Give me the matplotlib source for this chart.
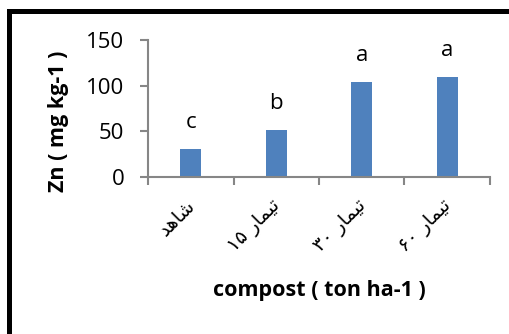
import matplotlib
matplotlib.use("Agg")
import matplotlib.pyplot as plt
import matplotlib.patches as mpatches
from matplotlib.transforms import ScaledTranslation
import numpy as np

# ---------------------------
# Daten
# ---------------------------
categories = ["شاهد", "تیمار ۱۵", "تیمار ۳۰", "تیمار ۶۰"]
zn_values = [31, 52, 104, 110]
letters = ["c", "b", "a", "a"]

# ---------------------------
# einfache Formung arabischer Buchstaben (matplotlib kennt kein shaping/bidi)
# ---------------------------
forms = {  # isoliert, final, initial, medial
    "ش": ("\uFEB5", "\uFEB6", "\uFEB7", "\uFEB8"),
    "ه": ("\uFEE9", "\uFEEA", "\uFEEB", "\uFEEC"),
    "ت": ("\uFE95", "\uFE96", "\uFE97", "\uFE98"),
    "ی": ("\uFBFC", "\uFBFD", "\uFBFE", "\uFBFF"),
    "م": ("\uFEE1", "\uFEE2", "\uFEE3", "\uFEE4"),
    "ا": ("\uFE8D", "\uFE8E", "\uFE8D", "\uFE8E"),
    "د": ("\uFEA9", "\uFEAA", "\uFEA9", "\uFEAA"),
    "ر": ("\uFEAD", "\uFEAE", "\uFEAD", "\uFEAE"),
}
dual = set("شهتیم")


def shape_word(word):
    out = []
    for i, ch in enumerate(word):
        prev = word[i - 1] if i > 0 else ""
        nxt = word[i + 1] if i + 1 < len(word) else ""
        jp = prev in dual
        jn = ch in dual and nxt in forms
        iso, fin, ini, med = forms[ch]
        out.append(med if jp and jn else fin if jp else ini if jn else iso)
    return "".join(out)[::-1]


def visual(label):
    words = label.split()[::-1]
    return " ".join(shape_word(w) if w[0] in forms else w for w in words)


# ---------------------------
# Diagramm
# ---------------------------
plt.rcParams["font.family"] = ["Open Sans", "DejaVu Sans"]

fig = plt.figure(figsize=(5.10, 3.34), dpi=100)
ax = fig.add_axes([148 / 510, 1 - 177 / 334, 342 / 510, 137 / 334])

x = np.arange(len(categories))
ax.bar(x, zn_values, width=0.25, color="#4F81BD", zorder=2)

for xi, val, let in zip(x, zn_values, letters):
    ax.annotate(let, (xi, val), xytext=(0, 15), textcoords="offset points",
                ha="center", va="baseline", fontsize=16)

ax.set_xlim(-0.5, len(categories) - 0.5)
ax.set_ylim(0, 150)
ax.set_yticks([0, 50, 100, 150])

gray = "#868686"
for side in ["top", "right"]:
    ax.spines[side].set_visible(False)
for side in ["left", "bottom"]:
    ax.spines[side].set_color(gray)
    ax.spines[side].set_linewidth(1.5)

ax.tick_params(axis="y", direction="out", length=6, width=1.5, color=gray,
               labelsize=16, pad=11)

# Kategoriegrenzen als kleine Ticks, Beschriftung mittig
ax.set_xticks(np.arange(-0.5, len(categories), 1.0), minor=True)
ax.set_xticks(x, [visual(c) for c in categories], family=["DejaVu Sans"],
              fontsize=14, rotation=45, ha="right", va="top")
ax.tick_params(axis="x", which="major", length=0, pad=14)
ax.tick_params(axis="x", which="minor", direction="out", length=6, width=1.5,
               color=gray)
for lab in ax.get_xticklabels():
    lab.set_transform(lab.get_transform() + ScaledTranslation(8 / 100, 0, fig.dpi_scale_trans))

ax.set_ylabel("Zn ( mg kg-1 )", fontsize=15.5, fontweight="bold", va="center")
ax.yaxis.set_label_coords(-0.263, 0.405)
ax.set_xlabel("compost ( ton ha-1 )", fontsize=15.5, fontweight="bold", va="center")
ax.xaxis.set_label_coords(0.5, -0.825)

# schwarzer Rahmen (rechts/unten abgeschnitten)
frame = mpatches.Rectangle((9.5 / 510, -0.2), 1.2, 1.2 - 10.5 / 334,
                           transform=fig.transFigure, fill=False,
                           edgecolor="black", linewidth=3.6, clip_on=False)
fig.patches.append(frame)

fig.savefig("out.png", dpi=100)
